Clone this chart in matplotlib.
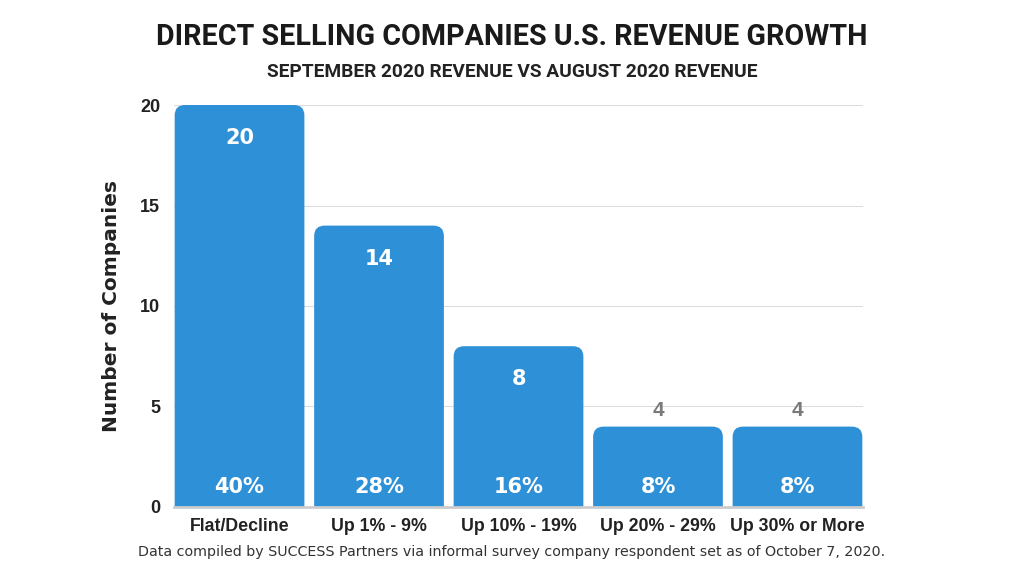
import matplotlib.pyplot as plt
from matplotlib.patches import FancyBboxPatch

# data
categories = ['Flat/Decline', 'Up 1% - 9%', 'Up 10% - 19%', 'Up 20% - 29%', 'Up 30% or More']
counts = [20, 14, 8, 4, 4]
shares = ['40%', '28%', '16%', '8%', '8%']
y_ticks = [0, 5, 10, 15, 20]

bar_color = '#2e90d6'
width = 0.93

fig = plt.figure(figsize=(10.24, 5.76), dpi=100)
ax = fig.add_axes([0.1699, 0.1198, 0.6729, 0.6979])

xs = list(range(len(categories)))
bars = ax.bar(xs, counts, width=width, color='none')

# rounded tops: draw rounded boxes that extend below zero and get clipped by the axes
r = 0.075
aspect = 6.9
for b in bars:
    x0 = b.get_x()
    h = b.get_height()
    patch = FancyBboxPatch((x0, -1.0), b.get_width(), h + 1.0,
                           boxstyle='round,pad=0,rounding_size={}'.format(r),
                           mutation_aspect=aspect, facecolor=bar_color,
                           edgecolor='none', zorder=2)
    ax.add_patch(patch)

# value labels
for x, c, s in zip(xs, counts, shares):
    if c >= 6:
        ax.text(x, c - 1.65, str(c), ha='center', va='center', color='white',
                fontsize=15, fontweight='bold', family='DejaVu Sans', zorder=3)
    else:
        ax.text(x, c + 0.8, str(c), ha='center', va='center', color='#7a7a7a',
                fontsize=15, fontweight='bold', family='Liberation Sans', zorder=3)
    ax.text(x, 1.0, s, ha='center', va='center', color='white',
            fontsize=15, fontweight='bold', family='DejaVu Sans', zorder=3)

ax.set_xlim(-0.47, 4.47)
ax.set_ylim(0, 20)
ax.set_yticks(y_ticks)
ax.set_yticklabels([str(t) for t in y_ticks], fontsize=13, fontweight='bold',
                   family='Liberation Sans', color='#222222')
ax.set_xticks(xs)
ax.set_xticklabels(categories, fontsize=12.8, fontweight='bold',
                   family='Liberation Sans', color='#222222')
ax.tick_params(length=0)
ax.tick_params(axis='y', pad=10)
ax.tick_params(axis='x', pad=8)

ax.grid(axis='y', color='#dddddd', linewidth=0.8, zorder=0)
ax.set_axisbelow(True)
for sp in ['top', 'right', 'left']:
    ax.spines[sp].set_visible(False)
ax.spines['bottom'].set_color('#cccccc')
ax.spines['bottom'].set_linewidth(2)
ax.spines['bottom'].set_zorder(4)

ax.set_ylabel('Number of Companies', fontsize=14.5, fontweight='bold',
              family='DejaVu Sans', color='#222222', labelpad=14)

fig.text(0.5, 0.935, 'DIRECT SELLING COMPANIES U.S. REVENUE GROWTH', ha='center',
         va='center', fontsize=20.6, fontweight='bold', family='Roboto', color='#1a1a1a')
fig.text(0.5, 0.875, 'SEPTEMBER 2020 REVENUE VS AUGUST 2020 REVENUE', ha='center',
         va='center', fontsize=13.8, fontweight='bold', family='Roboto', color='#222222')
fig.text(0.5, 0.041, 'Data compiled by SUCCESS Partners via informal survey company respondent set as of October 7, 2020.',
         ha='center', va='center', fontsize=10.3, family='DejaVu Sans', color='#333333')

fig.savefig('out.png', dpi=100)
